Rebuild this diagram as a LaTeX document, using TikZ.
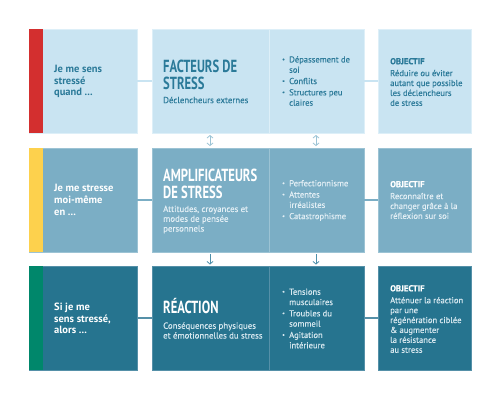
\documentclass[tikz,border=0pt]{standalone}
\usepackage{fontspec}
\usepackage{graphicx}
\setmainfont{PT Sans}
\newfontfamily\titlefont{PT Sans}[FakeStretch=0.72]
\newfontfamily\bodyfont{PT Sans}[FakeBold=0.25]
\usetikzlibrary{arrows.meta,calc}
\definecolor{rOne}{HTML}{C9E4F2}
\definecolor{rOneB}{HTML}{DDEFF8}
\definecolor{rOneT}{HTML}{2B7A99}
\definecolor{rTwo}{HTML}{7BAEC5}
\definecolor{rTwoB}{HTML}{9CC3D4}
\definecolor{rTwoS}{HTML}{E3EFF5}
\definecolor{rThree}{HTML}{26748F}
\definecolor{rThreeB}{HTML}{5590A8}
\definecolor{rThreeS}{HTML}{D8E9F0}
\definecolor{stripRed}{HTML}{D32F2F}
\definecolor{stripYellow}{HTML}{FDD14D}
\definecolor{stripGreen}{HTML}{00876B}
\definecolor{arrOne}{HTML}{9CC4D6}
\definecolor{arrTwo}{HTML}{4E8FAA}
\newcommand\bl{\makebox[7pt][l]{\raisebox{0.25ex}{\scalebox{0.7}{\textbullet}}}}
\newcommand\ind{\hspace*{7pt}}
\tikzset{
  cell/.style={inner sep=0, outer sep=0, minimum height=104pt, anchor=north west, line width=0.6pt},
  stripbox/.style={inner sep=0, outer sep=0, minimum height=104pt, minimum width=14pt, anchor=north west},
  lefttext/.style={anchor=west, inner sep=0, align=left, font={\bfseries\fontsize{10.5}{11.8}\selectfont}},
  titletext/.style={anchor=west, inner sep=0, align=left, font={\titlefont\bfseries\fontsize{17.5}{17.5}\selectfont}},
  subtext/.style={anchor=west, inner sep=0, align=left, font={\bodyfont\fontsize{8.8}{9.8}\selectfont}},
  listtext/.style={anchor=west, inner sep=0, align=left, font={\bodyfont\fontsize{8.6}{10.3}\selectfont}},
  objtext/.style={anchor=west, inner sep=0, align=left, font={\bodyfont\fontsize{8.6}{9.9}\selectfont}},
  connector/.style={line width=1.5pt},
  updown/.style={line width=0.8pt, arrOne, {Straight Barb[length=2.5pt,width=6pt]}-{Straight Barb[length=2.5pt,width=6pt]}},
  downarr/.style={line width=0.8pt, arrTwo, -{Straight Barb[length=2.5pt,width=6pt]}}
}
\begin{document}
\begin{tikzpicture}[x=1pt,y=-1pt]
\useasboundingbox (0,0) rectangle (500,400);
\fill[white] (0,0) rectangle (500,400);
% Row 1
\node[cell, fill=rOne, draw=rOneB, minimum width=108pt] (L1) at (29,29) {};
\node[stripbox, fill=stripRed] (S1) at (29,29) {};
\node[cell, fill=rOne, draw=rOneB, minimum width=212pt] (M1) at (152,29) {};
\node[cell, fill=rOne, draw=rOneB, minimum width=93pt] (R1) at (378,29) {};
\draw[rOneB, line width=0.8pt] ($(M1.north west)+(117,0)$) -- ($(M1.south west)+(117,0)$);
% Row 2
\node[cell, fill=rTwo, draw=rTwoB, minimum width=108pt] (L2) at (29,148) {};
\node[stripbox, fill=stripYellow] (S2) at (29,148) {};
\node[cell, fill=rTwo, draw=rTwoB, minimum width=212pt] (M2) at (152,148) {};
\node[cell, fill=rTwo, draw=rTwoB, minimum width=93pt] (R2) at (378,148) {};
\draw[rTwoB, line width=0.8pt] ($(M2.north west)+(117,0)$) -- ($(M2.south west)+(117,0)$);
% Row 3
\node[cell, fill=rThree, draw=rThreeB, minimum width=108pt] (L3) at (29,266) {};
\node[stripbox, fill=stripGreen] (S3) at (29,266) {};
\node[cell, fill=rThree, draw=rThreeB, minimum width=212pt] (M3) at (152,266) {};
\node[cell, fill=rThree, draw=rThreeB, minimum width=93pt] (R3) at (378,266) {};
\draw[rThreeB, line width=0.8pt] ($(M3.north west)+(117,0)$) -- ($(M3.south west)+(117,0)$);
% connectors
\draw[connector, rOne] (L1.east) -- (M1.west);
\draw[connector, rOne] (M1.east) -- (R1.west);
\draw[connector, rTwo] (L2.east) -- (M2.west);
\draw[connector, rTwo] (M2.east) -- (R2.west);
\draw[connector, rThreeB] (L3.east) -- (M3.west);
\draw[connector, rThreeB] (M3.east) -- (R3.west);
\draw[updown] ($(M1.south west)+(58,2)$) -- ($(M2.north west)+(58,-2)$);
\draw[updown] ($(M1.south west)+(164,2)$) -- ($(M2.north west)+(164,-2)$);
\draw[downarr] ($(M2.south west)+(58,2)$) -- ($(M3.north west)+(58,-1.5)$);
\draw[downarr] ($(M2.south west)+(164,2)$) -- ($(M3.north west)+(164,-1.5)$);
% Row 1 texts
\node[lefttext, text=rOneT] (T1) at (54,81.5) {Je me sens\\stressé\\quand ...};
\node[titletext, text=rOneT] (H1) at (163,75) {FACTEURS DE\\STRESS};
\node[subtext, text=rOneT] (D1) at (163,100) {Déclencheurs externes};
\node[listtext, text=rOneT] (B1) at (282,81) {\bl Dépassement de\\\ind soi\\[1pt]\bl Conflits\\[1pt]\bl Structures peu\\\ind claires};
\node[objtext, text=rOneT] (O1) at (390,82) {{\bfseries OBJECTIF}\\[2pt]Réduire ou éviter\\autant que possible\\les déclencheurs\\de stress};
% Row 2 texts
\node[lefttext, text=white] (T2) at (54,200) {Je me stresse\\moi-même\\en ...};
\node[titletext, text=white] (H2) at (163,184) {AMPLIFICATEURS\\DE STRESS};
\node[subtext, text=rTwoS] (D2) at (163,219.5) {Attitudes, croyances et\\modes de pensée\\personnels};
\node[listtext, text=rTwoS] (B2) at (282,200.5) {\bl Perfectionnisme\\[1pt]\bl Attentes\\\ind irréalistes\\[1pt]\bl Catastrophisme};
\node[objtext, text=rTwoS] (O2) at (390,200) {{\bfseries\color{white}OBJECTIF}\\[2pt]Reconnaître et\\changer grâce à la\\réflexion sur soi};
% Row 3 texts
\node[lefttext, text=white] (T3) at (54,318.5) {Si je me\\sens stressé,\\alors ...};
\node[titletext, text=white] (H3) at (163,306) {RÉACTION};
\node[subtext, text=rThreeS] (D3) at (163,330.5) {Conséquences physiques\\et émotionnelles du stress};
\node[listtext, text=rThreeS] (B3) at (282,318.5) {\bl Tensions\\\ind musculaires\\[1pt]\bl Troubles du\\\ind sommeil\\[1pt]\bl Agitation\\\ind intérieure};
\node[objtext, text=rThreeS] (O3) at (390,319) {{\bfseries\color{white}OBJECTIF}\\[2pt]Atténuer la réaction\\par une\\régénération ciblée\\\& augmenter\\la résistance\\au stress};
\end{tikzpicture}
\end{document}
